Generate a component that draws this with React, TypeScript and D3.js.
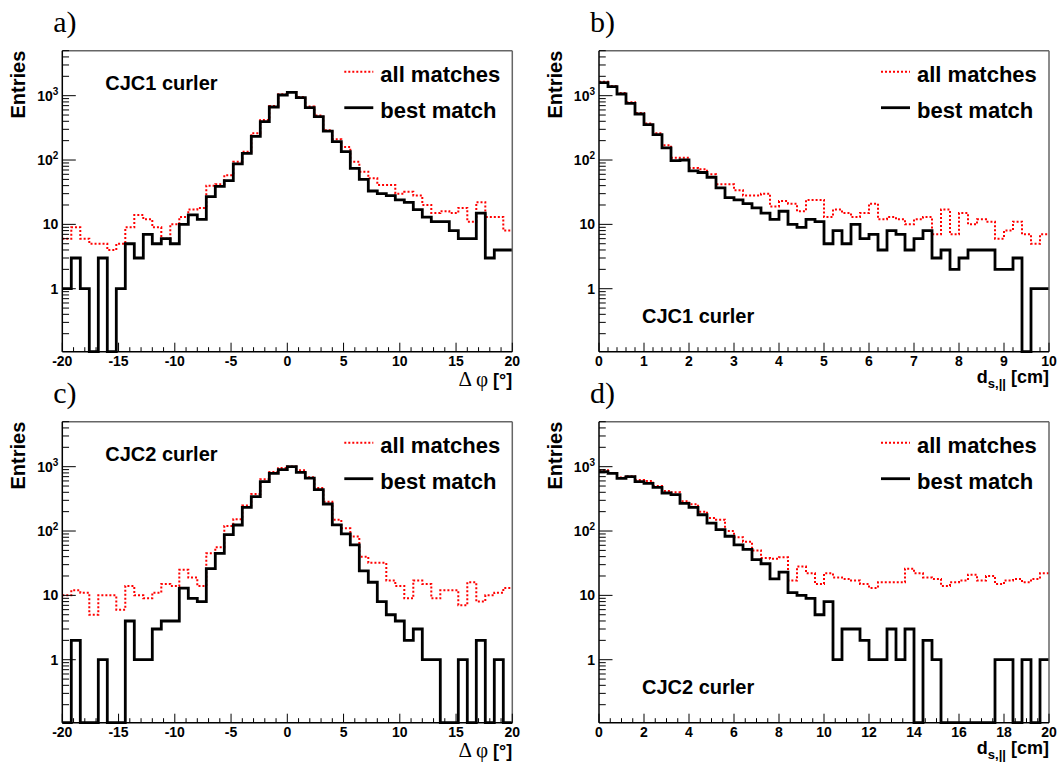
import React from "react";
import * as d3 from "d3";

// ---------- data (bin contents, 50 bins per histogram) ----------
const dphiDomain = [-20, 20];
const ds1Domain = [0, 10];
const ds2Domain = [0, 20];

const dphiTicks = [-20, -15, -10, -5, 0, 5, 10, 15, 20];
const ds1Ticks = [0, 1, 2, 3, 4, 5, 6, 7, 8, 9, 10];
const ds2Ticks = [0, 2, 4, 6, 8, 10, 12, 14, 16, 18, 20];

const yMajorTicks = [1, 10, 100, 1000];
const yDomain = [0.105, 5000];

// a) CJC1 curler, delta phi
const cjc1DphiBest = [1, 3, 1, 0, 3, 0, 1, 5, 3, 7, 5, 6, 5, 10, 14, 12, 27, 39, 48, 87, 127, 233, 394, 667, 1024,
  1127, 931, 651, 472, 282, 193, 135, 74, 50, 33, 30, 28, 24, 22, 17, 13, 11, 11, 8, 6, 6, 15, 3, 4, 4];
const cjc1DphiAll = [6, 9, 6, 5, 5, 4, 5, 9, 14, 12, 9, 6, 10, 13, 17, 18, 40, 42, 58, 94, 135, 260, 420, 690, 1050,
  1140, 950, 680, 490, 290, 210, 160, 94, 66, 52, 41, 41, 30, 32, 28, 20, 15, 16, 15, 18, 11, 22, 13, 13, 8];

// b) CJC1 curler, d_s
const cjc1DsBest = [1592, 1380, 1062, 760, 519, 354, 248, 155, 98, 100, 68, 64, 54, 37, 26, 24, 21, 18, 15, 12, 16, 10, 9, 12, 11,
  5, 8, 5, 10, 6, 7, 4, 8, 7, 4, 6, 8, 3, 4, 2, 3, 4, 4, 4, 2, 2, 3, 0, 1, 1];
const cjc1DsAll = [1650, 1420, 1100, 790, 540, 370, 260, 170, 108, 108, 75, 72, 60, 42, 42, 34, 28, 28, 30, 19, 23, 21, 16, 24, 24,
  13, 17, 15, 13, 15, 21, 12, 13, 12, 10, 12, 13, 7, 17, 7, 15, 10, 12, 11, 6, 8, 11, 7, 5, 7];

// c) CJC2 curler, delta phi
const cjc2DphiBest = [0, 2, 0, 0, 1, 0, 0, 4, 1, 1, 3, 4, 4, 13, 9, 8, 26, 45, 88, 124, 233, 342, 585, 788, 898,
  1000, 817, 666, 439, 263, 125, 90, 61, 24, 16, 8, 5, 4, 2, 3, 1, 1, 0, 0, 1, 0, 2, 0, 1, 0];
const cjc2DphiAll = [10, 12, 11, 5, 10, 10, 6, 14, 10, 9, 11, 15, 14, 25, 19, 14, 45, 56, 120, 153, 250, 375, 640, 830, 950,
  1010, 880, 685, 465, 285, 150, 110, 82, 40, 32, 32, 17, 14, 9, 17, 15, 9, 12, 12, 7, 16, 8, 10, 11, 13];

// d) CJC2 curler, d_s
const cjc2DsBest = [836, 788, 659, 699, 585, 551, 477, 390, 367, 269, 233, 179, 133, 105, 83, 61, 52, 36, 31, 18, 23, 11, 10, 9, 5,
  8, 1, 3, 3, 2, 1, 1, 3, 1, 3, 0, 2, 1, 0, 0, 0, 0, 0, 0, 1, 1, 0, 1, 0, 1];
const cjc2DsAll = [880, 800, 680, 710, 620, 600, 500, 420, 400, 290, 260, 200, 160, 150, 100, 80, 68, 50, 38, 37, 39, 17, 28, 22, 15,
  22, 19, 18, 17, 15, 13, 16, 16, 16, 26, 22, 19, 18, 14, 16, 17, 21, 17, 20, 15, 17, 18, 16, 18, 22];

const legendLabels = ["all matches", "best match"];

// ---------- layout ----------
const PW = 450;
const PH = 301;
const SANS = "'Liberation Sans', Arial, Helvetica, sans-serif";
const SERIF = "'Liberation Serif', 'DejaVu Serif', serif";

type PanelProps = {
  left: number;
  top: number;
  letter: string;
  domain: number[];
  ticks: number[];
  minorStep: number;
  best: number[];
  all: number[];
  curler: string;
  curlerBottom: boolean;
  xTitle: "dphi" | "ds";
};

function histPath(values: number[], domain: number[], x: d3.ScaleLinear<number, number>, y: d3.ScaleLogarithmic<number, number>) {
  const n = values.length;
  const w = (domain[1] - domain[0]) / n;
  const pts: [number, number][] = values.map((v, i) => [domain[0] + i * w, v]);
  pts.push([domain[1], values[n - 1]]);
  const line = d3
    .line<[number, number]>()
    .x((d) => x(d[0]))
    .y((d) => y(Math.max(d[1], yDomain[0])))
    .curve(d3.curveStepAfter);
  return line(pts) || "";
}

function Panel(p: PanelProps) {
  const L = p.left;
  const T = p.top;
  const R = L + PW;
  const B = T + PH;
  const x = d3.scaleLinear().domain(p.domain).range([L, R]);
  const y = d3.scaleLog().domain(yDomain).range([B, T]);

  const minorX = d3.range(p.domain[0], p.domain[1] + 1e-9, p.minorStep).filter((v) => !p.ticks.some((t) => Math.abs(t - v) < 1e-6));
  const minorY: number[] = [];
  [0.1, 1, 10, 100, 1000].forEach((dec) => {
    for (let k = 2; k <= 9; k++) {
      const v = k * dec;
      if (v >= yDomain[0] && v <= yDomain[1]) minorY.push(v);
    }
  });

  const redPath = histPath(p.all, p.domain, x, y);
  const blackPath = histPath(p.best, p.domain, x, y);

  const curlerY = p.curlerBottom ? T + 272 : T + 39;

  return (
    <g>
      <text x={L - 9} y={T - 19} fontFamily={SERIF} fontSize={30}>{p.letter}</text>
      {/* histograms */}
      <path d={redPath} fill="none" stroke="#ff0000" strokeWidth={2} strokeDasharray="2,2" />
      <path d={blackPath} fill="none" stroke="#000" strokeWidth={2.8} strokeLinejoin="miter" />
      {/* frame */}
      <line x1={L} x2={R} y1={T} y2={T} stroke="#666" strokeWidth={1.5} />
      <line x1={R} x2={R} y1={T} y2={B} stroke="#666" strokeWidth={1.5} />
      <line x1={L} x2={L} y1={T} y2={B} stroke="#000" strokeWidth={1.5} />
      <line x1={L} x2={R} y1={B} y2={B} stroke="#000" strokeWidth={1.5} />
      {/* x ticks */}
      {p.ticks.map((t) => (
        <g key={"xt" + t}>
          <line x1={x(t)} x2={x(t)} y1={B} y2={B - 9} stroke="#000" strokeWidth={1} />
          <text x={x(t)} y={B + 14} textAnchor="middle" fontFamily={SANS} fontWeight="bold" fontSize={14}>{String(t)}</text>
        </g>
      ))}
      {minorX.map((t) => (
        <line key={"xm" + t} x1={x(t)} x2={x(t)} y1={B} y2={B - 4.5} stroke="#000" strokeWidth={1} />
      ))}
      {/* y ticks */}
      {yMajorTicks.map((t) => {
        const e = Math.round(Math.log10(t));
        return (
          <g key={"yt" + t}>
            <line x1={L} x2={L + 13.5} y1={y(t)} y2={y(t)} stroke="#000" strokeWidth={1} />
            <text x={L - 4} y={y(t) + 5} textAnchor="end" fontFamily={SANS} fontWeight="bold" fontSize={14}>
              {e <= 1 ? String(t) : (
                <>
                  <tspan>10</tspan>
                  <tspan dy={-6} fontSize={10}>{String(e)}</tspan>
                </>
              )}
            </text>
          </g>
        );
      })}
      {minorY.map((t) => (
        <line key={"ym" + t} x1={L} x2={L + 6.75} y1={y(t)} y2={y(t)} stroke="#000" strokeWidth={1} />
      ))}
      {/* y title */}
      <text transform={`translate(${L - 37},${T}) rotate(-90)`} textAnchor="end" fontFamily={SANS} fontWeight="bold" fontSize={20}>Entries</text>
      {/* x title */}
      {p.xTitle === "dphi" ? (
        <text x={R} y={B + 34} textAnchor="end">
          <tspan fontFamily={SERIF} fontSize={21}>Δ φ</tspan>
          <tspan fontFamily={SANS} fontWeight="bold" fontSize={18}> [°]</tspan>
        </text>
      ) : (
        <text x={R} y={B + 31} textAnchor="end" fontFamily={SANS} fontWeight="bold" fontSize={18}>
          <tspan>d</tspan>
          <tspan dy={5} fontSize={13}>s,||</tspan>
          <tspan dy={-5}> [cm]</tspan>
        </text>
      )}
      {/* curler label */}
      <text x={L + 43} y={curlerY} fontFamily={SANS} fontWeight="bold" fontSize={20}>{p.curler}</text>
      {/* legend */}
      <line x1={L + 282} x2={L + 311} y1={T + 21} y2={T + 21} stroke="#ff0000" strokeWidth={2} strokeDasharray="2,2" />
      <text x={L + 318} y={T + 31} fontFamily={SANS} fontWeight="bold" fontSize={22}>{legendLabels[0]}</text>
      <line x1={L + 282} x2={L + 311} y1={T + 57} y2={T + 57} stroke="#000" strokeWidth={2.8} />
      <text x={L + 318} y={T + 67} fontFamily={SANS} fontWeight="bold" fontSize={22}>{legendLabels[1]}</text>
    </g>
  );
}

export default function App() {
  return (
    <div style={{ position: "absolute", left: 0, top: 0, width: 1060, height: 766, background: "#fff" }}>
      <svg width={1060} height={766} viewBox="0 0 1060 766" style={{ display: "block" }}>
        <rect x={0} y={0} width={1060} height={766} fill="#fff" />
        <Panel left={62.3} top={50.7} letter="a)" domain={dphiDomain} ticks={dphiTicks} minorStep={1}
          best={cjc1DphiBest} all={cjc1DphiAll} curler="CJC1 curler" curlerBottom={false} xTitle="dphi" />
        <Panel left={599} top={50.7} letter="b)" domain={ds1Domain} ticks={ds1Ticks} minorStep={0.2}
          best={cjc1DsBest} all={cjc1DsAll} curler="CJC1 curler" curlerBottom={true} xTitle="ds" />
        <Panel left={62.3} top={421.7} letter="c)" domain={dphiDomain} ticks={dphiTicks} minorStep={1}
          best={cjc2DphiBest} all={cjc2DphiAll} curler="CJC2 curler" curlerBottom={false} xTitle="dphi" />
        <Panel left={599} top={421.7} letter="d)" domain={ds2Domain} ticks={ds2Ticks} minorStep={0.5}
          best={cjc2DsBest} all={cjc2DsAll} curler="CJC2 curler" curlerBottom={true} xTitle="ds" />
      </svg>
    </div>
  );
}
